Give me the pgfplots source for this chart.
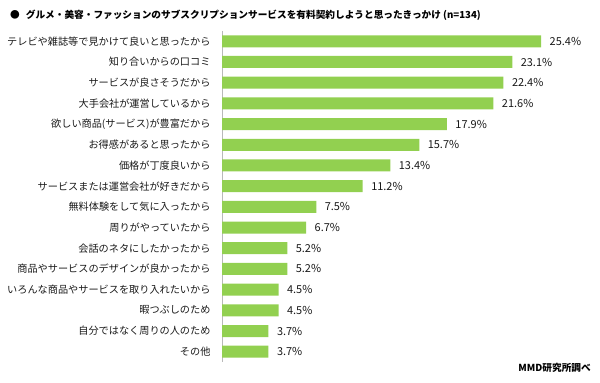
\documentclass[border=0pt]{standalone}
\usepackage{fontspec}
\setmainfont{Noto Sans CJK JP}
\usepackage{pgfplots}
\pgfplotsset{compat=1.18}
\definecolor{barg}{HTML}{92D050}
\begin{document}
\begin{tikzpicture}
\useasboundingbox (0,0) rectangle (600bp,383bp);
\node[anchor=west, inner sep=0pt, font=\fontsize{9.7}{11}\selectfont\bfseries] at (10bp,368bp) {●\hspace{6bp}グルメ・美容・ファッションのサブスクリプションサービスを有料契約しようと思ったきっかけ (n=134)};
\node[anchor=east, inner sep=0pt, font=\fontsize{9.7}{11}\selectfont\bfseries] at (591bp,15bp) {MMD研究所調べ};
\begin{axis}[
  at={(222bp,20.95bp)}, anchor=south west,
  scale only axis, width=377bp, height=331.1bp,
  xbar, bar width=12bp,
  xmin=0, xmax=30,
  ymin=-0.5, ymax=15.5, y dir=reverse,
  axis x line=none,
  axis y line*=left,
  y axis line style={draw=gray!55, line width=0.6bp, -},
  ytick={0,...,15},
  yticklabels={テレビや雑誌等で見かけて良いと思ったから,知り合いからの口コミ,サービスが良さそうだから,大手会社が運営しているから,欲しい商品(サービス)が豊富だから,お得感があると思ったから,価格が丁度良いから,サービスまたは運営会社が好きだから,無料体験をして気に入ったから,周りがやっていたから,会話のネタにしたかったから,商品やサービスのデザインが良かったから,いろんな商品やサービスを取り入れたいから,暇つぶしのため,自分ではなく周りの人のため,その他},
  major tick length=0pt,
  yticklabel style={font=\fontsize{10.2}{12}\selectfont, anchor=east, xshift=-8bp, text=black!90},
  nodes near coords={\pgfmathprintnumber[fixed,fixed zerofill,precision=1]{\pgfplotspointmeta}\%},
  nodes near coords style={font=\fontsize{11}{13}\selectfont, anchor=west, xshift=5bp, text=black!90},
  point meta=explicit,
  /pgf/number format/assume math mode=true,
  clip=false,
]
\addplot[fill=barg, draw=none] table[x=v, y=i, meta=v] {
i v
0 25.4
1 23.1
2 22.4
3 21.6
4 17.9
5 15.7
6 13.4
7 11.2
8 7.5
9 6.7
10 5.2
11 5.2
12 4.5
13 4.5
14 3.7
15 3.7
};
\end{axis}
\end{tikzpicture}
\end{document}
